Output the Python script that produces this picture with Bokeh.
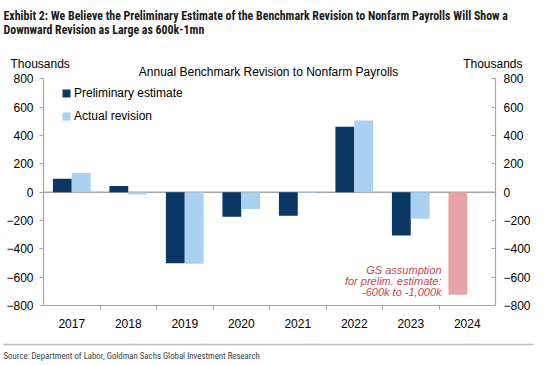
import numpy as np
from bokeh.plotting import figure
from bokeh.models import (ColumnDataSource, LinearAxis, Range1d, FixedTicker, Label,
                          Legend, LegendItem, BoxAnnotation)
from bokeh.embed import file_html
from bokeh.resources import INLINE

# ---- data ----
years = ["2017", "2018", "2019", "2020", "2021", "2022", "2023", "2024"]
prelim = [95, 43, -501, -173, -166, 462, -306, np.nan]
actual = [136, -16, -505, -119, -4, 506, -187, np.nan]
gs_assumption = [np.nan, np.nan, np.nan, np.nan, np.nan, np.nan, np.nan, -725]
y_ticks = [-800, -600, -400, -200, 0, 200, 400, 600, 800]
y_min, y_max = -800, 800

FONT = "Liberation Sans"
COND = "Roboto Condensed"
NAVY = "#0b3765"
LIGHT = "#a9d1f1"
PINK = "#e6a4a6"
AXC = "#a6a6a6"

# ---- layout (pixels) ----
W, H = 549, 365
PL, PR, PT, PB = 43, 495, 78.3, 305   # plot-area box inside the canvas
n = len(years)
cw = (PR - PL) / n
ky = (PB - PT) / (y_max - y_min)

idx = np.arange(n)
src = ColumnDataSource(dict(
    xp=idx + 0.5 - 1/6,
    xa=idx + 0.5 + 1/6,
    prelim=prelim, actual=actual, gs=gs_assumption,
))

p = figure(width=W, height=H, output_backend="svg", toolbar_location=None,
           x_range=Range1d(-PL / cw, n + (W - PR) / cw),
           y_range=Range1d(y_min - (H - PB) / ky, y_max + PT / ky),
           min_border=0, min_border_left=0, min_border_right=0, min_border_top=0, min_border_bottom=0,
           x_axis_location=None, y_axis_location=None)
p.outline_line_color = None
p.xgrid.visible = False
p.ygrid.visible = False
p.background_fill_color = "white"
p.border_fill_color = "white"

# zero line across the plot area
p.segment(x0=[0], x1=[n], y0=[0], y1=[0], line_color=AXC, line_width=1.5)

r1 = p.vbar(x="xp", top="prelim", bottom=0, width=1/3, source=src, fill_color=NAVY, line_color=None)
r2 = p.vbar(x="xa", top="actual", bottom=0, width=1/3, source=src, fill_color=LIGHT, line_color=None)
r3 = p.vbar(x="xp", top="gs", bottom=0, width=1/3, source=src, fill_color=PINK, line_color=None)

# x axis: labels at centres, ticks at boundaries
xax = LinearAxis(ticker=FixedTicker(ticks=list(idx + 0.5), minor_ticks=list(range(1, n))),
                 major_label_overrides={float(i + 0.5): y for i, y in enumerate(years)},
                 fixed_location=y_min, bounds=(0, n))
xax.axis_line_color = AXC
xax.axis_line_width = 1.2
xax.major_tick_line_color = None
xax.major_tick_out = 0
xax.major_tick_in = 0
xax.minor_tick_line_color = AXC
xax.minor_tick_out = 4
xax.minor_tick_in = 0
xax.major_label_standoff = 9
xax.major_label_text_font = FONT
xax.major_label_text_font_size = "12px"
xax.major_label_text_color = "black"
p.add_layout(xax, "below")

for side, loc in (("left", 0), ("right", n)):
    ax = LinearAxis(ticker=FixedTicker(ticks=y_ticks, minor_ticks=[]), fixed_location=loc,
                    bounds=(y_min, y_max))
    ax.axis_line_color = AXC
    ax.axis_line_width = 1.2
    ax.major_tick_line_color = AXC
    if side == "left":
        ax.major_tick_out = 4
        ax.major_tick_in = 0
        ax.major_label_standoff = 6
    else:
        ax.major_tick_out = 0
        ax.major_tick_in = 4
        ax.major_label_standoff = 8
    ax.major_label_text_font = FONT
    ax.major_label_text_font_size = "12px"
    ax.major_label_text_color = "black"
    p.add_layout(ax, side)

# legend (location = bottom-left corner, measured from the canvas bottom-left)
leg = Legend(items=[LegendItem(label="Preliminary estimate", renderers=[r1]),
                    LegendItem(label="Actual revision", renderers=[r2])],
             location=(61, H - 122.5), padding=0, margin=0, spacing=9,
             glyph_width=10, glyph_height=10, label_height=14, label_standoff=3,
             background_fill_alpha=0, border_line_color=None,
             label_text_font=FONT, label_text_font_size="12px", label_text_color="black")
p.add_layout(leg, "center")

def lab(text, wx, wy, **kw):
    p.add_layout(Label(x=wx, y=H - wy, x_units="screen", y_units="screen", text=text, **kw))

for i, t in enumerate(["Exhibit 2: We Believe the Preliminary Estimate of the Benchmark Revision to Nonfarm Payrolls Will Show a",
                       "Downward Revision as Large as 600k-1mn"]):
    lab(t, 3, 15.5 + 14 * i, text_font=COND, text_font_style="bold", text_font_size="11.9px",
        text_color="#1a1a1a", text_baseline="middle")
lab("Thousands", 10, 63, text_font=FONT, text_font_size="12px", text_color="black", text_baseline="middle")
lab("Thousands", 522, 63, text_font=FONT, text_font_size="12px", text_color="black", text_baseline="middle",
    text_align="right")
lab("Annual Benchmark Revision to Nonfarm Payrolls", 268, 71, text_font=FONT, text_font_size="12px",
    text_color="black", text_baseline="middle", text_align="center")
for i, t in enumerate(["GS assumption", "for prelim. estimate:", "-600k to -1,000k"]):
    lab(t, 441, 269.5 + 11 * i, text_font=FONT, text_font_style="italic", text_font_size="11px",
        text_color="#bf4a55", text_baseline="middle", text_align="right")
lab("Source: Department of Labor, Goldman Sachs Global Investment Research", 3, 355.5,
    text_font=COND, text_font_size="8.8px", text_color="#404040", text_baseline="middle")

# rule above the source line
p.add_layout(BoxAnnotation(left=3, right=533, bottom=H - 344.7, top=H - 343.3,
                           left_units="screen", right_units="screen",
                           bottom_units="screen", top_units="screen",
                           fill_color="#bdbdbd", fill_alpha=1, line_color=None))

open("out.html", "w").write(file_html(p, INLINE))
